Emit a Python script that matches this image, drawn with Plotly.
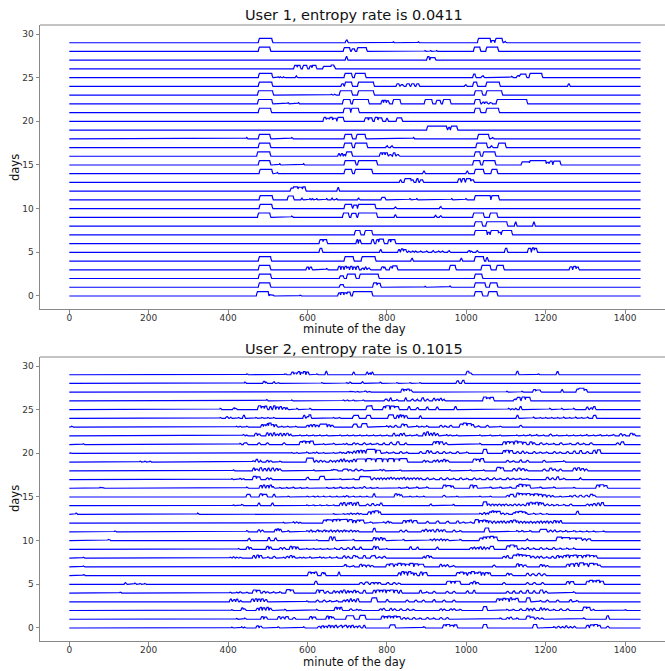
import numpy as np
import plotly.graph_objects as go

minutes = np.arange(1440)
x_ticks = [0, 200, 400, 600, 800, 1000, 1200, 1400]
y_ticks = [0, 5, 10, 15, 20, 25, 30]
titles = ["User 1, entropy rate is 0.0411", "User 2, entropy rate is 0.1015"]

# ---- User 1: active intervals per day (start minute, end minute, height) ----
u1_d00 = [(473,501,.5),(505,514,.15),(581,583,.1),(678,682,.35),(685,690,.4),(693,698,.35),(700,707,.45),(715,762,.5),(1022,1039,.5),(1056,1077,.5)]
u1_d01 = [(478,505,.5),(682,690,.3),(766,774,.5),(776,783,.45),(896,897,.1),(959,960,.15),(1022,1047,.5),(1060,1077,.5)]
u1_d02 = [(478,507,.5),(682,690,.3),(700,720,.5),(732,778,.5),(1022,1039,.5)]
u1_d03 = [(478,505,.5),(598,602,.3),(606,610,.3),(648,650,.15),(678,682,.4),(686,690,.35),(694,698,.4),(700,704,.3),(708,712,.4),(716,720,.3),(724,728,.4),(737,740,.2),(745,747,.3),(752,756,.2),(787,791,.35),(793,795,.3),(808,812,.35),(815,825,.45),(959,972,.5),(1039,1060,.5),(1077,1093,.5),(1261,1266,.35),(1270,1275,.4),(1278,1282,.3)]
u1_d04 = [(478,507,.5),(694,715,.5),(737,770,.5),(862,864,.3),(986,988,.3),(1022,1043,.5),(1051,1053,.4)]
u1_d05 = [(631,636,.45),(783,785,.3),(829,832,.3),(836,840,.4),(843,848,.3),(855,857,.15),(865,867,.15),(872,874,.15),(885,887,.15),(900,902,.15),(915,917,.2),(930,932,.15),(940,942,.15),(955,957,.2),(1005,1008,.2),(1012,1014,.15),(1026,1028,.2),(1098,1102,.45),(1156,1162,.45),(1166,1170,.5),(1172,1177,.45)]
u1_d06 = [(631,638,.45),(640,648,.45),(724,726,.45),(730,733,.4),(762,766,.45),(774,778,.45),(781,791,.5),(804,808,.45),(811,820,.45)]
u1_d07 = [(720,732,.5),(745,762,.5),(1022,1051,.5),(1055,1058,.3),(1062,1080,.5),(1082,1086,.3),(1090,1114,.5)]
u1_d08 = [(1022,1039,.5),(1051,1102,.5),(1123,1125,.45),(1169,1171,.45)]
u1_d09 = [(476,505,.5),(560,562,.15),(690,703,.5),(711,722,.45),(728,774,.5),(820,822,.3),(921,923,.25),(934,936,.2),(1018,1043,.5),(1060,1077,.5)]
u1_d10 = [(480,510,.5),(694,711,.5),(716,724,.4),(728,770,.5),(820,822,.2),(934,936,.25)]
u1_d11 = [(480,511,.5),(551,564,.45),(585,586,.2),(606,607,.15),(612,613,.15),(623,624,.15),(648,649,.15),(661,662,.2),(673,674,.15),(728,729,.25),(787,795,.3),(858,859,.15),(875,876,.15),(963,964,.15),(999,1000,.15),(1022,1060,.5),(1064,1081,.5)]
u1_d12 = [(558,565,.35),(565,575,.5),(577,586,.45),(588,594,.5),(676,678,.4)]
u1_d13 = [(833,835,.3),(845,860,.45),(862,866,.3),(875,878,.45),(884,890,.3),(980,985,.4),(990,995,.45),(1000,1010,.45),(1013,1018,.3)]
u1_d14 = [(480,510,.5),(524,525,.15),(694,711,.5),(720,762,.5),(892,894,.3),(1001,1003,.3),(1022,1043,.5),(1064,1077,.5)]
u1_d15 = [(478,505,.5),(530,531,.15),(590,591,.15),(694,720,.5),(728,774,.5),(1018,1034,.5),(1043,1072,.5),(1140,1158,.35),(1160,1200,.5),(1203,1207,.3),(1210,1216,.45),(1220,1236,.45)]
u1_d16 = [(474,505,.5),(678,680,.3),(685,688,.3),(692,694,.2),(698,711,.5),(783,787,.4),(790,794,.4),(797,801,.4),(806,810,.2),(816,820,.4),(825,829,.2),(1022,1034,.5),(1043,1072,.5)]
u1_d17 = [(478,505,.5),(693,711,.5),(720,749,.5),(799,801,.2),(811,813,.2),(1026,1051,.5),(1062,1064,.2),(1081,1098,.5)]
u1_d18 = [(447,448,.15),(478,505,.5),(560,562,.15),(694,711,.5),(724,745,.5),(867,868,.15),(1030,1056,.5),(1066,1068,.15)]
u1_d19 = [(902,950,.45),(955,958,.3),(962,976,.45)]
u1_d20 = [(641,646,.45),(648,654,.35),(656,662,.45),(665,672,.35),(676,690,.45),(745,752,.4),(755,762,.4),(770,776,.45),(779,787,.4),(799,801,.35),(825,837,.4)]
u1_d21 = [(478,507,.5),(692,707,.5),(711,728,.5),(1022,1034,.5),(1051,1081,.5)]
u1_d22 = [(476,510,.5),(551,552,.15),(577,578,.15),(690,707,.5),(715,753,.5),(787,790,.4),(793,797,.4),(800,804,.35),(816,833,.5),(896,913,.5),(925,934,.4),(942,959,.5),(1022,1034,.5),(1040,1044,.2),(1048,1052,.2),(1060,1064,.15),(1077,1152,.5)]
u1_d23 = [(476,512,.5),(660,662,.1),(668,670,.1),(682,711,.5),(728,766,.5),(1022,1039,.5),(1051,1089,.5)]
u1_d24 = [(478,510,.5),(686,690,.3),(695,711,.5),(728,766,.5),(825,830,.3),(835,840,.2),(850,856,.3),(862,868,.3),(875,880,.3),(997,999,.2),(1018,1026,.5),(1051,1083,.5),(1257,1259,.3)]
u1_d25 = [(478,510,.5),(526,527,.1),(531,532,.1),(539,540,.1),(571,572,.2),(694,711,.5),(720,745,.5),(1018,1022,.4),(1039,1043,.2),(1114,1116,.15),(1128,1132,.25),(1135,1150,.4),(1160,1190,.5)]
u1_d26 = [(567,573,.4),(575,581,.4),(589,598,.4),(606,610,.35),(613,621,.4),(640,668,.3),(660,666,.45)]
u1_d27 = [(697,699,.4),(902,906,.4),(910,921,.3)]
u1_d28 = [(478,505,.5),(692,706,.45),(712,718,.3),(726,748,.45),(896,897,.1),(910,911,.1),(925,926,.1),(1020,1034,.5),(1051,1079,.5)]
u1_d29 = [(478,510,.5),(697,700,.3),(816,817,.1),(879,880,.1),(1030,1060,.5),(1064,1070,.25),(1074,1090,.5),(1096,1098,.15)]

# ---- User 2: active intervals per day (start minute, end minute, height) ----
u2_d00 = [(409,411,.1),(434,436,.15),(440,442,.1),(472,476,.25),(480,484,.2),(526,528,.15),(590,592,.15),(627,631,.2),(636,640,.25),(644,648,.2),(652,656,.3),(660,664,.25),(669,673,.3),(678,682,.2),(682,686,.3),(690,694,.2),(694,698,.3),(703,707,.25),(711,715,.3),(720,724,.2),(728,732,.25),(741,744,.3),(808,820,.35),(892,895,.15),(942,948,.35),(950,958,.4),(960,967,.3),(970,976,.35),(1043,1051,.4),(1169,1177,.4),(1220,1223,.15),(1230,1233,.2),(1240,1243,.15),(1250,1253,.25),(1260,1263,.15),(1270,1273,.2),(1303,1308,.3),(1312,1320,.35),(1322,1330,.4),(1332,1337,.3),(1354,1357,.2)]
u2_d01 = [(421,423,.1),(442,444,.15),(484,488,.3),(492,497,.25),(526,530,.3),(535,540,.25),(545,551,.3),(564,567,.2),(606,610,.3),(614,620,.25),(648,652,.35),(656,660,.3),(662,665,.25),(698,716,.4),(732,745,.45),(787,792,.35),(795,800,.3),(803,808,.35),(810,815,.3),(818,824,.35),(826,833,.3),(841,844,.2),(850,853,.15),(866,869,.2),(883,886,.15),(900,903,.2),(917,920,.15),(934,937,.2),(950,953,.2),(1085,1088,.15),(1102,1105,.2),(1110,1113,.25),(1127,1130,.15),(1152,1160,.35),(1162,1170,.25),(1177,1180,.2),(1190,1193,.15),(1295,1298,.15),(1354,1358,.4)]
u2_d02 = [(409,411,.1),(434,437,.3),(439,442,.2),(472,476,.25),(480,484,.35),(488,492,.3),(497,501,.35),(505,508,.25),(543,545,.15),(623,625,.15),(669,673,.35),(676,680,.3),(683,686,.35),(707,710,.2),(724,727,.15),(732,735,.1),(782,785,.2),(790,793,.25),(808,811,.25),(817,820,.2),(833,836,.2),(850,853,.2),(866,869,.15),(934,937,.2),(942,945,.15),(959,962,.2),(967,970,.2),(984,987,.15),(1043,1051,.45),(1102,1105,.15),(1118,1121,.15),(1135,1138,.2),(1152,1155,.25),(1160,1163,.2),(1169,1172,.25),(1186,1189,.3),(1194,1197,.25),(1202,1205,.2),(1220,1223,.15),(1236,1239,.2),(1253,1256,.2),(1295,1302,.4),(1304,1311,.35),(1320,1322,.15),(1400,1402,.1)]
u2_d03 = [(405,408,.3),(413,417,.25),(421,424,.3),(430,432,.15),(459,463,.3),(468,472,.35),(476,480,.3),(484,488,.35),(493,497,.25),(598,600,.1),(623,626,.2),(640,643,.2),(656,659,.15),(673,676,.15),(690,693,.2),(698,701,.25),(707,710,.35),(715,718,.25),(724,728,.35),(762,774,.45),(799,802,.25),(849,852,.2),(871,874,.2),(890,893,.2),(917,920,.25),(942,945,.2),(967,970,.2),(1077,1082,.35),(1085,1090,.3),(1093,1098,.4),(1100,1106,.35),(1110,1114,.45),(1116,1122,.3),(1124,1130,.4),(1152,1160,.45),(1186,1189,.15),(1202,1205,.2),(1228,1231,.2),(1261,1264,.25),(1278,1281,.15)]
u2_d04 = [(128,130,.1),(405,407,.1),(421,423,.1),(430,433,.15),(447,449,.1),(463,470,.35),(473,480,.3),(488,492,.2),(497,500,.15),(514,517,.15),(530,533,.15),(547,556,.4),(558,564,.35),(623,628,.35),(632,640,.3),(648,652,.2),(665,668,.25),(673,676,.2),(682,685,.25),(690,694,.35),(700,703,.25),(707,711,.2),(716,720,.3),(724,728,.2),(741,745,.3),(766,770,.3),(774,780,.35),(783,788,.3),(791,796,.35),(800,806,.3),(808,816,.35),(820,826,.3),(833,836,.3),(883,886,.3),(900,903,.15),(917,920,.2),(950,953,.2),(967,970,.2),(1001,1004,.25),(1018,1021,.3),(1102,1105,.2),(1118,1121,.25),(1135,1138,.25),(1152,1156,.3),(1169,1172,.25),(1186,1192,.35),(1198,1202,.2),(1270,1273,.15)]
u2_d05 = [(140,142,.2),(165,167,.15),(178,180,.1),(190,192,.1),(619,623,.35),(732,737,.2),(745,752,.25),(760,766,.2),(770,775,.2),(779,783,.2),(800,804,.2),(816,820,.2),(829,833,.15),(951,960,.35),(963,970,.3),(973,984,.35),(1010,1014,.2),(1018,1022,.35),(1026,1030,.2),(1093,1096,.2),(1152,1155,.2),(1169,1173,.2),(1190,1193,.2),(1253,1258,.3),(1262,1270,.3),(1303,1308,.35),(1310,1318,.45),(1320,1326,.4),(1328,1335,.45),(1338,1345,.35)]
u2_d06 = [(35,38,.1),(45,48,.05),(52,54,.05),(602,608,.4),(610,616,.35),(618,623,.4),(636,640,.35),(642,644,.3),(678,680,.4),(829,833,.3),(837,842,.45),(845,850,.4),(854,860,.45),(862,866,.3),(870,874,.25),(884,888,.4),(892,895,.3),(896,900,.35),(976,982,.35),(984,992,.4),(995,1000,.3),(1005,1010,.35),(1013,1020,.45),(1022,1028,.3),(1030,1036,.4),(1040,1044,.3),(1048,1054,.35),(1056,1060,.3),(1102,1106,.25),(1110,1114,.2),(1152,1156,.25),(1165,1170,.2),(1180,1185,.25),(1194,1198,.2)]
u2_d07 = [(35,37,.1),(690,692,.1),(694,697,.25),(700,703,.1),(715,717,.15),(732,736,.3),(740,745,.2),(750,755,.2),(760,765,.15),(799,805,.3),(808,815,.35),(820,825,.3),(828,835,.4),(838,845,.35),(848,855,.3),(858,866,.4),(870,878,.35),(880,892,.3),(934,937,.3),(942,945,.2),(950,953,.25),(967,970,.15),(1068,1071,.2),(1127,1131,.35),(1135,1140,.25),(1145,1150,.2),(1186,1190,.25),(1194,1197,.2),(1202,1205,.15),(1253,1258,.3),(1262,1270,.35),(1274,1280,.4),(1285,1295,.45),(1298,1305,.35),(1310,1320,.4),(1322,1330,.35),(1332,1337,.2)]
u2_d08 = [(35,37,.1),(405,408,.1),(413,416,.15),(421,424,.1),(430,433,.1),(463,466,.3),(472,476,.35),(480,484,.3),(500,502,.15),(514,517,.2),(539,541,.1),(547,550,.2),(556,560,.3),(564,567,.2),(581,583,.1),(590,592,.1),(606,608,.15),(631,633,.15),(640,642,.1),(656,658,.15),(673,675,.15),(690,694,.25),(700,703,.2),(715,720,.3),(722,726,.2),(741,745,.3),(760,765,.25),(766,770,.3),(780,784,.15),(791,795,.2),(892,894,.2),(900,905,.3),(909,912,.2),(1093,1096,.2),(1102,1105,.3),(1118,1125,.35),(1127,1132,.45),(1134,1140,.4),(1142,1150,.35),(1152,1160,.3),(1165,1170,.2),(1177,1180,.2),(1186,1190,.2),(1202,1205,.15),(1215,1218,.2),(1228,1232,.3),(1236,1240,.2),(1245,1250,.3),(1253,1258,.35),(1262,1268,.3),(1270,1278,.35),(1282,1290,.3),(1295,1300,.3),(1303,1310,.35),(1312,1320,.3),(1322,1328,.25)]
u2_d09 = [(426,428,.1),(447,451,.3),(455,458,.2),(497,501,.35),(505,508,.25),(530,533,.2),(539,542,.2),(556,560,.35),(564,569,.3),(573,576,.25),(598,600,.1),(615,617,.1),(632,634,.1),(650,652,.1),(668,671,.15),(683,686,.2),(700,703,.2),(715,718,.3),(732,735,.25),(766,770,.35),(774,778,.3),(799,801,.1),(858,861,.3),(875,878,.25),(925,928,.25),(1010,1014,.2),(1018,1021,.25),(1026,1030,.2),(1034,1037,.3),(1043,1046,.25),(1051,1054,.2),(1060,1068,.35),(1102,1108,.4),(1110,1120,.5),(1122,1127,.4),(1140,1143,.15),(1152,1156,.2),(1169,1172,.15),(1186,1189,.2),(1202,1205,.15),(1218,1221,.2),(1236,1239,.15),(1253,1256,.15),(1270,1273,.15)]
u2_d10 = [(98,102,.15),(451,454,.25),(501,504,.35),(518,521,.3),(623,625,.1),(656,660,.45),(665,669,.4),(715,717,.15),(766,770,.35),(774,778,.3),(783,787,.35),(791,795,.25),(841,843,.15),(909,912,.15),(917,920,.2),(925,928,.15),(934,937,.2),(942,945,.15),(950,953,.15),(984,987,.15),(1034,1040,.3),(1043,1049,.4),(1051,1058,.45),(1060,1068,.5),(1070,1077,.4),(1152,1154,.2),(1228,1240,.4),(1242,1260,.35),(1262,1275,.3),(1278,1290,.3),(1295,1300,.2),(1305,1312,.2)]
u2_d11 = [(115,117,.1),(447,449,.15),(476,479,.25),(484,487,.2),(518,521,.3),(524,527,.35),(530,533,.3),(551,553,.15),(598,602,.15),(606,610,.2),(614,618,.1),(623,627,.2),(631,635,.15),(640,644,.2),(648,652,.15),(656,660,.2),(665,669,.15),(673,677,.2),(682,686,.15),(690,694,.2),(698,702,.15),(707,710,.2),(716,720,.15),(724,728,.15),(766,770,.4),(833,836,.2),(846,849,.2),(888,891,.2),(896,900,.3),(905,909,.2),(913,917,.25),(925,929,.3),(934,938,.2),(942,946,.25),(967,970,.2),(984,987,.15),(1047,1056,.45),(1127,1130,.15),(1140,1143,.15),(1160,1163,.15),(1186,1202,.3),(1210,1213,.2),(1220,1224,.2),(1236,1240,.15),(1250,1253,.15),(1270,1274,.15),(1286,1290,.1),(1303,1306,.1),(1320,1323,.1),(1345,1348,.1)]
u2_d12 = [(52,54,.08),(539,541,.1),(564,566,.15),(572,575,.15),(581,583,.1),(640,646,.35),(648,655,.4),(656,662,.35),(665,672,.4),(674,680,.45),(682,690,.4),(690,700,.45),(703,708,.25),(705,712,.4),(716,720,.3),(724,730,.35),(732,741,.35),(758,762,.15),(791,794,.15),(800,804,.2),(808,811,.15),(841,846,.3),(850,855,.3),(858,862,.35),(867,875,.3),(900,903,.2),(925,930,.25),(950,955,.2),(976,980,.25),(992,995,.15),(1010,1013,.15),(1022,1030,.4),(1034,1040,.3),(1043,1048,.35),(1051,1054,.3),(1058,1062,.25),(1068,1071,.25),(1077,1080,.2),(1085,1088,.25),(1093,1096,.25),(1102,1105,.2),(1110,1114,.3),(1118,1124,.35),(1127,1130,.25),(1135,1138,.2),(1144,1147,.2),(1152,1155,.15),(1160,1163,.2),(1169,1172,.15),(1177,1180,.2),(1186,1189,.25),(1194,1197,.2),(1202,1205,.25),(1210,1213,.2),(1220,1224,.3),(1228,1231,.25),(1236,1239,.3)]
u2_d13 = [(17,19,.15),(323,325,.15),(665,667,.1),(690,692,.1),(700,703,.1),(707,710,.15),(715,718,.1),(724,727,.15),(732,735,.1),(753,758,.3),(762,767,.35),(770,778,.4),(780,783,.3),(1034,1037,.15),(1043,1046,.2),(1051,1054,.15),(1058,1062,.3),(1064,1068,.4),(1070,1075,.35),(1077,1085,.35),(1090,1094,.15),(1102,1105,.15),(1118,1122,.2),(1124,1130,.3),(1132,1140,.35),(1142,1148,.3),(1150,1152,.2),(1169,1172,.15),(1186,1189,.15),(1202,1205,.1),(1278,1282,.35)]
u2_d14 = [(413,415,.1),(434,437,.15),(476,479,.3),(510,513,.3),(598,600,.1),(614,616,.1),(631,633,.1),(648,650,.1),(665,667,.1),(682,686,.3),(690,694,.35),(700,704,.3),(707,711,.35),(716,720,.3),(724,728,.4),(749,752,.2),(762,766,.25),(775,779,.15),(783,787,.3),(909,911,.2),(967,969,.15),(1043,1051,.45),(1055,1058,.2),(1064,1067,.2),(1072,1075,.15),(1081,1084,.2),(1090,1093,.15),(1098,1101,.2),(1110,1113,.15),(1120,1123,.2),(1130,1133,.2),(1140,1143,.15),(1152,1156,.3),(1160,1165,.4),(1168,1172,.3),(1175,1180,.4),(1184,1188,.35),(1190,1194,.3),(1202,1205,.2),(1215,1218,.15),(1228,1231,.15),(1245,1248,.15),(1261,1264,.2),(1303,1306,.2),(1312,1315,.15),(1320,1324,.25),(1330,1334,.3),(1340,1345,.35)]
u2_d15 = [(65,67,.08),(447,455,.3),(480,485,.35),(488,497,.3),(514,517,.3),(551,553,.1),(599,601,.1),(614,616,.1),(625,627,.1),(640,642,.1),(656,658,.1),(673,675,.1),(690,692,.1),(698,702,.15),(715,717,.1),(732,734,.1),(749,751,.1),(766,769,.35),(820,825,.35),(827,832,.3),(834,837,.25),(858,860,.1),(875,877,.1),(892,894,.1),(942,945,.2),(976,978,.1),(1034,1036,.1),(1060,1062,.1),(1102,1105,.2),(1110,1118,.3),(1127,1132,.45),(1134,1140,.4),(1142,1150,.35),(1152,1160,.4),(1162,1169,.3),(1172,1180,.35),(1183,1190,.3),(1194,1200,.25),(1205,1210,.2),(1215,1218,.15),(1236,1238,.1),(1261,1264,.15),(1270,1275,.2),(1285,1290,.2),(1300,1305,.2),(1312,1318,.3),(1320,1324,.2)]
u2_d16 = [(77,80,.1),(83,86,.1),(447,449,.15),(480,484,.3),(488,492,.35),(497,501,.3),(505,509,.35),(512,514,.2),(530,532,.1),(547,549,.1),(564,566,.15),(581,583,.1),(598,600,.1),(648,650,.1),(665,667,.1),(682,685,.15),(698,700,.1),(715,717,.15),(732,734,.1),(741,744,.2),(758,760,.1),(775,777,.1),(830,833,.1),(850,853,.15),(875,878,.15),(900,903,.15),(942,948,.35),(950,960,.3),(963,967,.25),(1010,1016,.35),(1020,1026,.3),(1060,1063,.15),(1085,1088,.15),(1110,1113,.15),(1127,1131,.3),(1133,1140,.45),(1143,1150,.4),(1152,1160,.35),(1186,1189,.15),(1220,1223,.15),(1270,1273,.1),(1328,1334,.35),(1337,1346,.4),(1348,1354,.3)]
u2_d17 = [(346,348,.08),(409,411,.1),(430,432,.15),(438,440,.1),(463,470,.35),(473,480,.3),(497,500,.2),(505,508,.15),(598,602,.25),(631,642,.35),(682,684,.1),(715,717,.1),(732,745,.35),(745,758,.3),(766,769,.2),(775,778,.15),(783,786,.2),(791,794,.15),(800,803,.2),(808,811,.25),(816,819,.2),(825,828,.15),(833,836,.2),(841,844,.25),(850,853,.2),(858,861,.15),(866,869,.2),(875,878,.2),(883,886,.15),(900,903,.2),(917,920,.15),(934,937,.2),(950,953,.2),(968,971,.15),(984,987,.2),(1001,1004,.15),(1018,1021,.2),(1034,1037,.15),(1051,1054,.2),(1068,1071,.2),(1085,1088,.15),(1102,1105,.2),(1118,1121,.15),(1135,1138,.15),(1152,1155,.1),(1202,1206,.25),(1215,1218,.2),(1228,1232,.3),(1245,1248,.15),(1286,1288,.2)]
u2_d18 = [(287,289,.08),(413,415,.1),(463,466,.3),(470,474,.2),(480,484,.35),(490,494,.25),(500,503,.3),(510,514,.3),(520,524,.25),(528,532,.2),(615,617,.1),(660,662,.1),(665,675,.15),(690,700,.2),(705,710,.15),(720,724,.2),(735,740,.15),(783,786,.15),(791,794,.15),(833,835,.1),(958,960,.1),(1010,1012,.1),(1043,1045,.1),(1077,1085,.4),(1087,1093,.35),(1118,1122,.25),(1130,1135,.3),(1140,1145,.25),(1150,1152,.15),(1194,1198,.2),(1210,1215,.3),(1220,1224,.2),(1235,1238,.2),(1270,1275,.3),(1280,1285,.35),(1290,1295,.25),(1300,1303,.2)]
u2_d19 = [(178,180,.1),(190,192,.1),(203,205,.1),(463,466,.15),(470,474,.3),(480,482,.2),(497,500,.2),(505,508,.15),(530,533,.1),(598,614,.45),(620,623,.2),(631,634,.2),(640,643,.15),(656,659,.2),(665,668,.15),(673,676,.2),(682,685,.3),(690,693,.35),(698,701,.2),(707,710,.2),(715,719,.3),(724,745,.35),(749,760,.4),(762,770,.35),(774,787,.4),(791,800,.35),(804,816,.4),(820,830,.35),(833,850,.4),(892,895,.2),(900,903,.15),(917,920,.2),(925,928,.25),(934,938,.2),(942,946,.3),(950,954,.2),(1018,1024,.35),(1026,1032,.3),(1036,1043,.4),(1102,1105,.2),(1118,1121,.15),(1135,1138,.25),(1152,1155,.2),(1194,1197,.2),(1245,1248,.15)]
u2_d20 = [(2,4,.05),(560,562,.1),(573,575,.1),(598,601,.15),(614,617,.1),(623,625,.15),(640,642,.1),(665,667,.1),(682,685,.15),(690,692,.1),(700,703,.2),(707,711,.15),(715,718,.25),(724,728,.3),(732,736,.35),(740,744,.3),(749,770,.45),(774,783,.35),(799,802,.15),(816,819,.15),(833,836,.2),(850,852,.15),(883,886,.2),(900,904,.3),(909,912,.25),(925,928,.2),(942,945,.2),(959,962,.15),(976,979,.2),(1001,1004,.15),(1043,1051,.45),(1093,1097,.3),(1100,1106,.35),(1110,1116,.3),(1127,1130,.2),(1140,1143,.25),(1152,1155,.15),(1169,1172,.2),(1186,1189,.15),(1202,1205,.15),(1220,1223,.2),(1236,1239,.15),(1253,1256,.2),(1270,1274,.25),(1286,1290,.3),(1303,1306,.2),(1320,1324,.35),(1330,1337,.4)]
u2_d21 = [(35,37,.1),(430,432,.15),(440,447,.2),(476,479,.2),(497,500,.2),(539,542,.2),(581,586,.35),(588,594,.4),(597,604,.35),(607,614,.4),(640,642,.1),(665,668,.15),(690,692,.1),(698,700,.15),(715,718,.2),(724,727,.15),(741,744,.2),(758,760,.15),(775,778,.15),(791,793,.2),(808,812,.25),(825,830,.3),(846,848,.2),(917,922,.3),(925,930,.35),(934,940,.3),(946,950,.2),(1034,1036,.15),(1093,1098,.3),(1102,1108,.35),(1110,1118,.3),(1122,1128,.4),(1131,1140,.3),(1144,1150,.25),(1160,1165,.3),(1169,1172,.2),(1186,1190,.2),(1202,1205,.15),(1220,1222,.15),(1236,1240,.2),(1261,1264,.15),(1278,1282,.2),(1295,1298,.15),(1312,1316,.2),(1379,1382,.2),(1390,1396,.3)]
u2_d22 = [(438,441,.15),(445,447,.1),(468,472,.3),(476,480,.2),(497,500,.35),(505,508,.3),(514,517,.35),(522,525,.2),(530,533,.3),(539,542,.25),(547,551,.3),(556,558,.2),(581,583,.1),(598,600,.1),(614,616,.1),(631,633,.1),(648,650,.1),(682,684,.1),(700,702,.1),(715,717,.1),(732,734,.1),(749,751,.1),(766,768,.1),(783,785,.1),(800,802,.1),(816,819,.3),(825,827,.1),(833,836,.25),(841,844,.3),(858,860,.1),(875,877,.15),(892,895,.35),(900,904,.45),(909,912,.3),(917,920,.35),(925,928,.25),(950,952,.15),(959,962,.1),(976,978,.1),(1034,1036,.1),(1060,1062,.1),(1085,1087,.1),(1127,1129,.1),(1144,1146,.1),(1160,1162,.15),(1177,1179,.15),(1194,1196,.1),(1210,1213,.2),(1228,1230,.1),(1253,1255,.1),(1270,1272,.1),(1287,1289,.1),(1303,1305,.15),(1320,1322,.1),(1337,1339,.15),(1354,1356,.1),(1370,1373,.15),(1387,1390,.25),(1396,1400,.15),(1413,1418,.3),(1421,1424,.2)]
u2_d23 = [(6,8,.1),(421,423,.1),(430,432,.1),(447,449,.1),(484,487,.3),(490,494,.25),(497,500,.4),(503,508,.45),(510,514,.3),(518,522,.25),(535,537,.1),(550,552,.1),(570,572,.1),(598,602,.2),(606,610,.25),(614,618,.3),(622,626,.2),(631,648,.35),(652,656,.25),(660,664,.2),(715,719,.3),(716,724,.35),(737,749,.4),(799,802,.15),(808,810,.15),(820,823,.2),(837,842,.35),(845,850,.3),(875,878,.15),(888,891,.1),(900,903,.15),(934,937,.2),(946,949,.15),(959,962,.2),(984,990,.35),(992,1000,.45),(1003,1012,.4),(1014,1018,.3),(1030,1033,.15),(1051,1054,.2),(1085,1088,.1),(1135,1138,.2)]
u2_d24 = [(380,382,.1),(395,398,.2),(405,407,.15),(426,428,.1),(438,441,.35),(470,472,.1),(485,488,.1),(500,502,.1),(515,517,.1),(590,593,.35),(598,602,.2),(604,608,.4),(665,667,.1),(680,682,.1),(715,719,.3),(716,728,.35),(749,758,.35),(804,816,.4),(825,828,.35),(832,835,.4),(838,842,.35),(846,850,.3),(883,885,.3),(1127,1130,.35),(1169,1171,.15),(1186,1188,.1),(1200,1202,.1),(1215,1217,.1),(1230,1232,.1),(1245,1247,.15),(1260,1262,.1),(1275,1277,.15),(1290,1292,.1),(1305,1307,.15),(1320,1326,.35)]
u2_d25 = [(380,382,.15),(413,416,.2),(418,421,.15),(476,482,.45),(485,490,.35),(493,497,.4),(505,508,.35),(514,518,.45),(522,526,.3),(530,534,.35),(539,543,.25),(547,549,.2),(573,575,.15),(606,608,.15),(749,753,.4),(753,762,.45),(791,795,.35),(798,806,.45),(810,818,.4),(820,829,.35),(854,857,.35),(875,878,.25),(900,903,.3),(925,928,.3),(971,974,.35),(1106,1109,.15),(1115,1118,.1),(1124,1126,.15),(1135,1138,.35),(1210,1212,.15),(1240,1242,.15),(1270,1272,.15),(1303,1306,.3),(1312,1316,.2),(1320,1324,.35)]
u2_d26 = [(497,499,.15),(560,562,.1),(665,666,.05),(690,692,.1),(700,702,.1),(715,717,.1),(725,727,.08),(740,742,.1),(755,757,.08),(795,800,.2),(808,810,.35),(825,827,.15),(846,848,.35),(862,865,.2),(875,877,.2),(888,892,.35),(900,903,.2),(917,920,.3),(925,929,.2),(934,937,.3),(942,944,.2),(1043,1050,.45),(1052,1058,.35),(1060,1068,.4),(1120,1124,.2),(1127,1135,.4),(1140,1147,.45),(1150,1160,.4)]
u2_d27 = [(321,322,.05),(665,666,.08),(707,712,.1),(715,718,.1),(725,728,.1),(735,738,.08),(745,748,.15),(755,758,.1),(837,841,.35),(844,848,.3),(850,856,.35),(858,862,.25),(1030,1031,.08),(1102,1104,.1),(1140,1142,.1),(1169,1174,.3),(1176,1186,.25),(1240,1242,.3),(1278,1284,.35),(1284,1296,.45),(1298,1303,.3)]
u2_d28 = [(442,444,.15),(489,492,.25),(495,497,.15),(514,516,.2),(526,528,.1),(590,591,.08),(615,616,.08),(636,638,.1),(698,700,.1),(707,709,.15),(737,739,.2),(783,785,.15),(825,827,.1),(858,860,.1),(883,885,.1),(976,980,.3),(990,994,.35)]
u2_d29 = [(447,449,.1),(535,538,.08),(543,546,.1),(560,564,.3),(567,572,.2),(575,580,.35),(584,588,.25),(590,594,.35),(598,602,.3),(623,625,.1),(646,648,.4),(715,717,.3),(749,751,.3),(756,758,.2),(762,764,.3),(808,809,.08),(850,851,.08),(909,910,.08),(950,951,.08),(1001,1006,.4),(1008,1012,.2),(1077,1078,.08),(1100,1101,.08),(1127,1130,.4),(1181,1183,.1),(1228,1231,.35)]

user1_days = [u1_d00,u1_d01,u1_d02,u1_d03,u1_d04,u1_d05,u1_d06,u1_d07,u1_d08,u1_d09,
              u1_d10,u1_d11,u1_d12,u1_d13,u1_d14,u1_d15,u1_d16,u1_d17,u1_d18,u1_d19,
              u1_d20,u1_d21,u1_d22,u1_d23,u1_d24,u1_d25,u1_d26,u1_d27,u1_d28,u1_d29]
user2_days = [u2_d00,u2_d01,u2_d02,u2_d03,u2_d04,u2_d05,u2_d06,u2_d07,u2_d08,u2_d09,
              u2_d10,u2_d11,u2_d12,u2_d13,u2_d14,u2_d15,u2_d16,u2_d17,u2_d18,u2_d19,
              u2_d20,u2_d21,u2_d22,u2_d23,u2_d24,u2_d25,u2_d26,u2_d27,u2_d28,u2_d29]


def day_profile(events):
    """Activity level per minute from the listed intervals (short edges)."""
    y = np.zeros(len(minutes))
    for s, e, h in events:
        lo, hi = s - 2, e + 2
        for m in range(max(lo, 0), min(hi, 1439) + 1):
            v = h * min(1.0, (m - lo) / 2.0, (hi - m) / 2.0)
            if v > y[m]:
                y[m] = v
    return y


def build_xy(days):
    xs, ys = [], []
    for d, ev in enumerate(days):
        prof = day_profile(ev) + d
        xs.extend(minutes.tolist() + [None])
        ys.extend(prof.tolist() + [None])
    return xs, ys


fig = go.Figure()
for i, days in enumerate([user1_days, user2_days]):
    xs, ys = build_xy(days)
    fig.add_trace(go.Scatter(x=xs, y=ys, mode="lines",
                             line=dict(color="#0000ff", width=1.2),
                             xaxis="x" if i == 0 else "x2",
                             yaxis="y" if i == 0 else "y2",
                             showlegend=False, hoverinfo="skip"))

W, H = 665, 671
ML, MR, MT, MB = 40, 0, 25, 30
PW, PH = W - ML - MR, H - MT - MB


def py(pix):
    return (H - MB - pix) / PH


def px(pix):
    return (pix - ML) / PW


font_family = "DejaVu Sans"
ax_common = dict(showgrid=False, zeroline=False, showline=True, linecolor="#888888",
                 linewidth=1, ticks="outside", ticklen=3.5, tickwidth=1, tickcolor="#888888",
                 automargin=False,
                 tickfont=dict(family=font_family, size=9, color="#333333"))

fig.update_layout(
    width=W, height=H,
    margin=dict(l=ML, r=MR, t=MT, b=MB, autoexpand=False),
    paper_bgcolor="white", plot_bgcolor="white",
    xaxis=dict(domain=[0, 1], range=[-73.8, 1500.5], tickvals=x_ticks, anchor="y",
               ticklabelstandoff=-3, **ax_common),
    yaxis=dict(domain=[py(309), 1], range=[-1.49, 31.03], tickvals=y_ticks, anchor="x", **ax_common),
    xaxis2=dict(domain=[0, 1], range=[-73.8, 1500.5], tickvals=x_ticks, anchor="y2",
                ticklabelstandoff=-3, **ax_common),
    yaxis2=dict(domain=[0, py(357)], range=[-1.49, 31.03], tickvals=y_ticks, anchor="x2", **ax_common),
    shapes=[
        dict(type="line", xref="x domain", yref="y domain", x0=0, x1=1, y0=1, y1=1,
             line=dict(color="#888888", width=1)),
        dict(type="line", xref="x2 domain", yref="y2 domain", x0=0, x1=1, y0=1, y1=1,
             line=dict(color="#888888", width=1)),
    ],
    annotations=[
        dict(text=titles[0], x=px(354), y=py(15), xref="paper", yref="paper", showarrow=False,
             xanchor="center", yanchor="middle", font=dict(family=font_family, size=14.5, color="#111111")),
        dict(text=titles[1], x=px(354), y=py(349), xref="paper", yref="paper", showarrow=False,
             xanchor="center", yanchor="middle", font=dict(family=font_family, size=14.5, color="#111111")),
        dict(text="minute of the day", x=px(354), y=py(329.5), xref="paper", yref="paper", showarrow=False,
             xanchor="center", yanchor="middle", font=dict(family=font_family, size=11.5, color="#111111")),
        dict(text="minute of the day", x=px(354), y=py(661.5), xref="paper", yref="paper", showarrow=False,
             xanchor="center", yanchor="middle", font=dict(family=font_family, size=11.5, color="#111111")),
        dict(text="days", x=px(15), y=py(168), xref="paper", yref="paper", showarrow=False, textangle=-90,
             xanchor="center", yanchor="middle", font=dict(family=font_family, size=11.5, color="#111111")),
        dict(text="days", x=px(15), y=py(499), xref="paper", yref="paper", showarrow=False, textangle=-90,
             xanchor="center", yanchor="middle", font=dict(family=font_family, size=11.5, color="#111111")),
    ],
)

fig.write_html("out.html", config={"displayModeBar": False},
               post_script="document.body.style.margin='0px';document.body.style.padding='0px';document.body.style.overflow='hidden';")
